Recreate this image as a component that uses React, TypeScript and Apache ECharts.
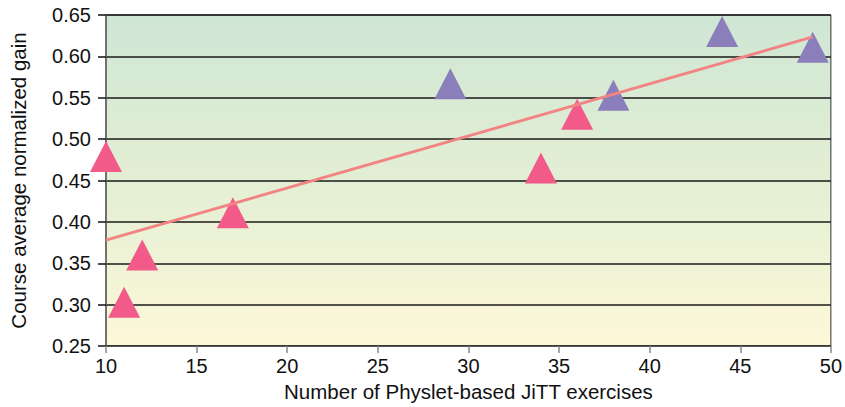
import React, { useEffect, useRef } from "react";
import * as echarts from "echarts";

const pinkX = [10, 11, 12, 17, 34, 36];
const pinkY = [0.479, 0.303, 0.36, 0.411, 0.465, 0.53];
const purpleX = [29, 38, 44, 49];
const purpleY = [0.567, 0.553, 0.63, 0.611];
const trendX = [10, 49];
const trendY = [0.378, 0.6235];
const xTicks = [10, 15, 20, 25, 30, 35, 40, 45, 50];
const yTicks = [0.25, 0.3, 0.35, 0.4, 0.45, 0.5, 0.55, 0.6, 0.65];

const FONT = "Liberation Sans, Arial, sans-serif";

export default function App() {
  const ref = useRef<HTMLDivElement>(null);
  useEffect(() => {
    const chart = echarts.init(ref.current!, null, { renderer: "svg" });
    const zip = (xs: number[], ys: number[]) => xs.map((x, i) => [x, ys[i]]);
    chart.setOption({
      animation: false,
      grid: {
        left: 105,
        right: 12,
        top: 15,
        bottom: 60,
        show: true,
        borderColor: "#333",
        borderWidth: 1,
        backgroundColor: new echarts.graphic.LinearGradient(0, 0, 0, 1, [
          { offset: 0, color: "#cfe6d4" },
          { offset: 0.5, color: "#e3efd4" },
          { offset: 1, color: "#fdf8d8" },
        ]),
      },
      xAxis: {
        type: "value",
        min: xTicks[0],
        max: xTicks[xTicks.length - 1],
        interval: 5,
        name: "Number of Physlet-based JiTT exercises",
        nameLocation: "middle",
        nameGap: 35,
        nameTextStyle: { fontFamily: FONT, fontSize: 20.5, color: "#111" },
        axisLine: { show: true, lineStyle: { color: "#555", width: 1 } },
        axisTick: { show: true, length: 7, lineStyle: { color: "#888", width: 1.5 } },
        axisLabel: {
          fontFamily: FONT,
          fontSize: 20,
          color: "#111",
          margin: 10,
          formatter: (v: number) => String(v),
        },
        splitLine: { show: false },
      },
      yAxis: {
        type: "value",
        min: yTicks[0],
        max: yTicks[yTicks.length - 1],
        interval: 0.05,
        name: "Course average normalized gain",
        nameLocation: "middle",
        nameGap: 77,
        nameTextStyle: { fontFamily: FONT, fontSize: 20.5, color: "#111" },
        axisLine: { show: true, lineStyle: { color: "#666", width: 1.5 } },
        axisTick: { show: true, length: 8, lineStyle: { color: "#111", width: 1.5 } },
        axisLabel: {
          fontFamily: FONT,
          fontSize: 20,
          color: "#111",
          margin: 15,
          formatter: (v: number) => v.toFixed(2),
        },
        splitLine: { show: true, lineStyle: { color: "#1a1a1a", width: 1.5 } },
      },
      series: [
        {
          type: "scatter",
          data: zip(pinkX, pinkY),
          symbol: "triangle",
          symbolSize: [32, 31],
          itemStyle: { color: "#f25a8a", opacity: 1 },
          z: 2,
        },
        {
          type: "scatter",
          data: zip(purpleX, purpleY),
          symbol: "triangle",
          symbolSize: [32, 31],
          itemStyle: { color: "#8a7fba", opacity: 1 },
          z: 2,
        },
        {
          type: "line",
          data: zip(trendX, trendY),
          showSymbol: false,
          symbol: "none",
          lineStyle: { color: "#f28484", width: 3 },
          z: 3,
        },
      ],
    });
    return () => chart.dispose();
  }, []);
  return <div ref={ref} style={{ width: 845, height: 407, position: "absolute", left: 0, top: 0 }} />;
}
